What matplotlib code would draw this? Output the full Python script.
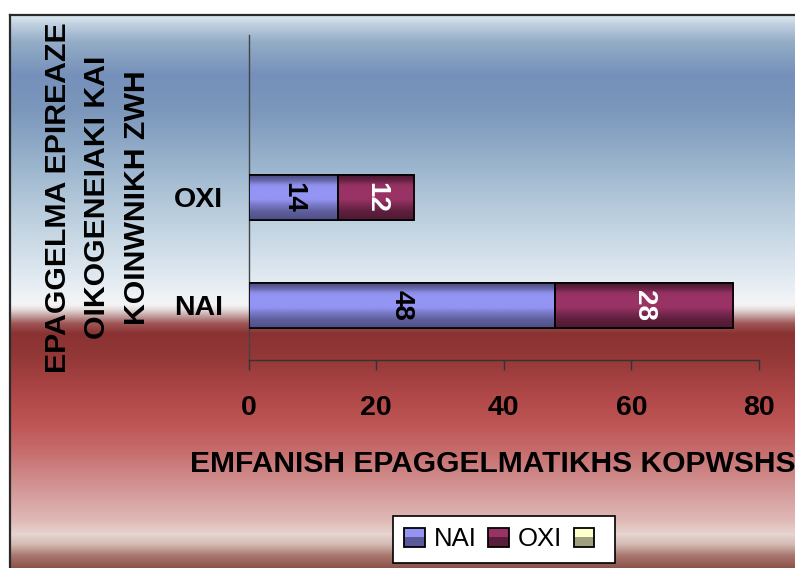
import matplotlib
matplotlib.use("Agg")
import matplotlib.pyplot as plt
import numpy as np
from matplotlib.colors import to_rgb
from matplotlib.patches import Rectangle
from matplotlib.legend_handler import HandlerBase

# categories on the value axis (bottom to top); the third slot is empty
categories = ["NAI", "OXI", ""]
series_names = ["NAI", "OXI", ""]
nai_values = [48, 14]
oxi_values = [28, 12]
x_ticks = [0, 20, 40, 60, 80]

plt.rcParams["font.family"] = ["Liberation Sans", "DejaVu Sans"]

W, H = 795, 568
fig = plt.figure(figsize=(W / 100, H / 100), dpi=100)

# ---- background panel with the vertical colour wash ----
bg_stops = [
    (15, "#dde9f1"), (24, "#bfd0e0"), (42, "#93acc6"), (75, "#7590ba"),
    (110, "#7b97bb"), (160, "#98b2cc"), (210, "#b8ccdc"), (260, "#d6e2ec"),
    (295, "#eef2f6"), (304, "#f4f4f4"), (309, "#e6dcdc"), (315, "#c6a4a4"),
    (323, "#9e5656"), (333, "#8a3232"), (355, "#933737"), (395, "#b04848"),
    (425, "#bf5656"), (450, "#c66c6c"), (490, "#d49898"), (520, "#dfbab6"),
    (534, "#e7d4d0"), (544, "#d2bab2"), (555, "#a87870"), (568, "#8a5048"),
]
rows = np.arange(15, H)
stop_y = [s[0] for s in bg_stops]
stop_c = np.array([to_rgb(c) for _, c in bg_stops])
wash = np.stack([np.interp(rows, stop_y, stop_c[:, k]) for k in range(3)], axis=-1)[:, None, :]

bg = fig.add_axes([10 / W, 0, 1.0, (H - 15) / H])
bg.imshow(wash, extent=(0, 1, 0, 1), aspect="auto", origin="upper", interpolation="bilinear")
bg.set_xlim(0, 1)
bg.set_ylim(0, 1)
bg.set_xticks([])
bg.set_yticks([])
for side in ["right", "bottom"]:
    bg.spines[side].set_visible(False)
for side in ["left", "top"]:
    bg.spines[side].set_color("#2a2a2a")
    bg.spines[side].set_linewidth(1.6)
bg.set_zorder(0)

# ---- main chart ----
ax = fig.add_axes([248.5 / W, (H - 359.5) / H, 510.5 / W, 324.5 / H])
ax.set_zorder(1)
ax.patch.set_visible(False)

ypos = np.arange(len(nai_values))
bar_h = 0.42
b1 = ax.barh(ypos, nai_values, height=bar_h, color="#9494f4",
             edgecolor="black", linewidth=1.2, label=series_names[0], zorder=3)
b2 = ax.barh(ypos, oxi_values, left=nai_values, height=bar_h, color="#993366",
             edgecolor="black", linewidth=1.2, label=series_names[1], zorder=3)

# cylinder-like shading across each bar
profile_t = [0.0, 0.06, 0.14, 0.23, 0.30, 0.55, 0.68, 0.82, 1.0]
profile_m = [1.0, 0.9, 0.6, 0.1, 0.0, 0.0, 0.4, 0.75, 0.95]


def shade_bars(bars, base, dark):
    t = np.linspace(0, 1, 90)
    m = np.interp(t, profile_t, profile_m)[:, None]
    col = (1 - m) * np.array(to_rgb(base)) + m * np.array(to_rgb(dark))
    img = col[:, None, :]
    for rect in bars:
        x0, y0 = rect.get_x(), rect.get_y()
        im = ax.imshow(img, extent=(x0, x0 + rect.get_width(), y0, y0 + rect.get_height()),
                       aspect="auto", origin="upper", interpolation="bilinear", zorder=3.5)
        im.set_clip_path(rect)
        # redraw the outline on top of the shading
        ax.add_patch(Rectangle((x0, y0), rect.get_width(), rect.get_height(),
                               fill=False, edgecolor="black", linewidth=1.2, zorder=4))


shade_bars(b1, "#9494f4", "#4c4c80")
shade_bars(b2, "#993366", "#4a1830")

ax.bar_label(b1, label_type="center", rotation=-90, fontsize=20, fontweight="bold",
             color="black", zorder=5)
ax.bar_label(b2, label_type="center", rotation=-90, fontsize=20, fontweight="bold",
             color="white", zorder=5)

ax.set_xlim(x_ticks[0], x_ticks[-1])
ax.set_ylim(-0.5, len(categories) - 0.5)
ax.set_xticks(x_ticks)
ax.set_xticklabels([str(v) for v in x_ticks], fontsize=20.5, fontweight="bold")
ax.set_yticks(np.arange(len(categories)))
ax.set_yticklabels(categories, fontsize=20.5, fontweight="bold")
ax.tick_params(axis="x", direction="out", length=7, width=1, color="#333333", pad=18.5)
ax.tick_params(axis="y", length=0, pad=18.4)

for side in ["top", "right"]:
    ax.spines[side].set_visible(False)
ax.spines["left"].set_color("#444444")
ax.spines["bottom"].set_color("#333333")
ax.spines["left"].set_linewidth(1)
ax.spines["bottom"].set_linewidth(1)

ax.set_xlabel("EMFANISH EPAGGELMATIKHS KOPWSHS", fontsize=21.6, fontweight="bold", va="center")
ax.xaxis.set_label_coords(0.479, -0.322)
ax.set_ylabel("EPAGGELMA EPIREAZE\nOIKOGENEIAKI KAI\nKOINWNIKH ZWH", fontsize=21.8,
              fontweight="bold", va="center", linespacing=1.52, multialignment="center")
ax.yaxis.set_label_coords(-0.2958, 0.5)


# ---- legend with two-tone square swatches ----
class Swatch:
    def __init__(self, light, dark):
        self.light = light
        self.dark = dark


class SwatchHandler(HandlerBase):
    def create_artists(self, legend, orig_handle, xdescent, ydescent, width, height,
                       fontsize, trans):
        x0, y0 = -xdescent, -ydescent
        low = Rectangle((x0, y0), width, height / 2, facecolor=orig_handle.dark,
                        edgecolor="none", transform=trans)
        high = Rectangle((x0, y0 + height / 2), width, height / 2, facecolor=orig_handle.light,
                         edgecolor="none", transform=trans)
        frame = Rectangle((x0, y0), width, height, fill=False, edgecolor="black",
                          linewidth=1.3, transform=trans)
        return [low, high, frame]


swatches = [Swatch("#9494f4", "#5a5a9a"), Swatch("#993366", "#5a1e3c"), Swatch("#ffffcc", "#a0a080")]
leg = ax.legend(swatches, series_names, handler_map={Swatch: SwatchHandler()},
                loc="upper center", bbox_to_anchor=(503.9 / W, 1 - 515.7 / H),
                bbox_transform=fig.transFigure, ncol=3, fontsize=18.5, frameon=True,
                fancybox=False, framealpha=1, facecolor="white", edgecolor="black",
                handlelength=0.8, handleheight=0.8, handletextpad=0.36,
                columnspacing=0.44, borderpad=0.45, borderaxespad=0)
leg.get_frame().set_linewidth(1.2)

fig.savefig("out.png", dpi=100)
